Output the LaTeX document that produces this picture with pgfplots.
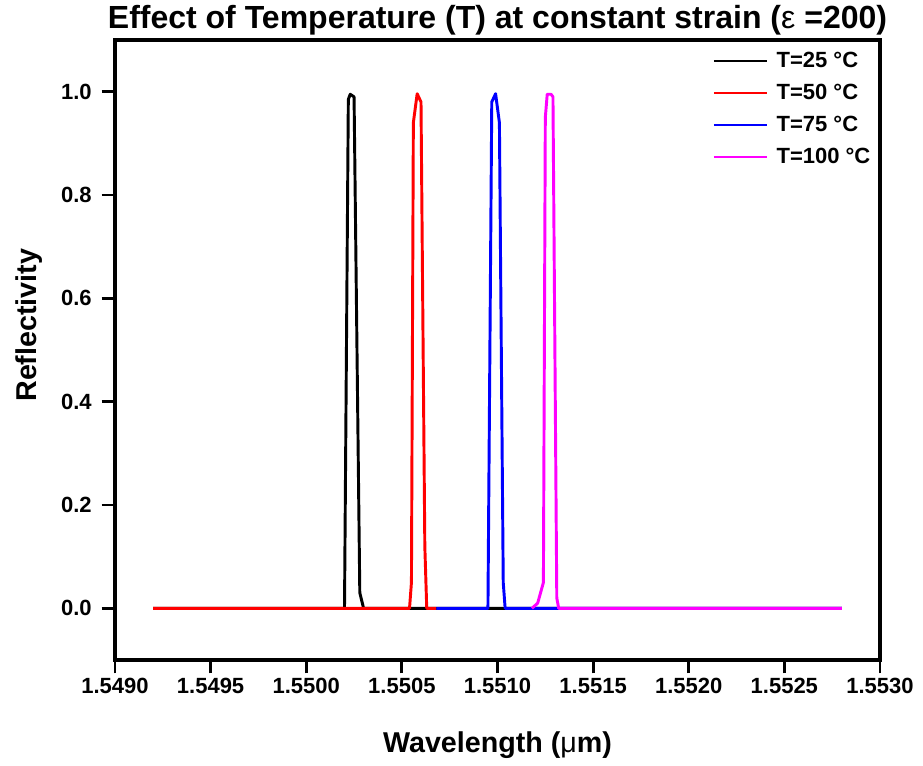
\documentclass[border=0pt]{standalone}
\usepackage{fontspec}
\setmainfont{Liberation Sans}
\usepackage{pgfplots}
\pgfplotsset{compat=1.18}
\definecolor{cmag}{RGB}{255,0,255}
\begin{document}
\begin{tikzpicture}
\begin{axis}[
  name=ax,
  scale only axis,
  width=573.75pt, height=465pt,
  xmin=1.5490, xmax=1.5530,
  ymin=-0.1, ymax=1.1,
  xtick={1.5490,1.5495,...,1.5531},
  ytick={0,0.2,...,1.01},
  tick align=outside,
  tick pos=left,
  major tick length=10pt,
  every tick/.style={line width=2.2pt, black},
  axis line style={line width=2.4pt},
  /pgf/number format/assume math mode=true,
  xticklabel style={font=\fontsize{16.5}{18}\selectfont\bfseries, /pgf/number format/.cd, fixed, fixed zerofill, precision=4, 1000 sep={}},
  yticklabel style={font=\fontsize{16.5}{18}\selectfont\bfseries, xshift=-4pt, /pgf/number format/.cd, fixed, fixed zerofill, precision=1},
  scaled x ticks=false,
  xlabel={\bfseries Wavelength (\textmd{μ}m)},
  ylabel={\bfseries Reflectivity},
  label style={font=\fontsize{21.5}{24}\selectfont},
  xlabel style={yshift=-22pt},
  ylabel style={at={(ticklabel cs:0.54)}, yshift=7pt},
  title={\bfseries Effect of Temperature (T) at constant strain (\textmd{ε} =200)},
  title style={font=\fontsize{24}{28}\selectfont, at={(0.5,1)}, anchor=base, yshift=2.5pt},
  legend style={draw=none, fill=none, at={(1,1)}, anchor=north east, xshift=-2pt, yshift=-5pt,
    font=\fontsize{16.5}{18}\selectfont\bfseries, row sep=7pt},
  legend cell align=left,
  legend image code/.code={\draw[#1, line width=2pt] (0pt,0pt) -- (40pt,0pt); \path (44pt,0pt);},
  every axis plot/.append style={line width=2.2pt, line join=round},
]
\addplot[black] coordinates {
(1.54920,0) (1.55020,0) (1.55022,0.985) (1.55023,0.995) (1.55025,0.99) (1.55028,0.03) (1.55030,0) (1.55280,0)};
\addlegendentry{T=25 °C}
\addplot[red] coordinates {
(1.54920,0) (1.55054,0) (1.55055,0.05) (1.55056,0.94) (1.55058,0.996) (1.55060,0.98) (1.55062,0.12) (1.55063,0) (1.55068,0)};
\addlegendentry{T=50 °C}
\addplot[blue] coordinates {
(1.55068,0) (1.55095,0) (1.55097,0.98) (1.55099,0.996) (1.55101,0.94) (1.55103,0.05) (1.55104,0) (1.55280,0)};
\addlegendentry{T=75 °C}
\addplot[cmag] coordinates {
(1.55118,0) (1.55121,0.01) (1.55124,0.05) (1.55125,0.95) (1.55126,0.995) (1.55128,0.995) (1.55129,0.99) (1.55131,0.02) (1.55132,0) (1.55280,0)};
\addlegendentry{T=100 °C}
\end{axis}
\pgfresetboundingbox
\path[use as bounding box] ([xshift=-86.25pt, yshift=-78.75pt]ax.south west) rectangle ([xshift=32.25pt, yshift=30pt]ax.north east);
\end{tikzpicture}
\end{document}
